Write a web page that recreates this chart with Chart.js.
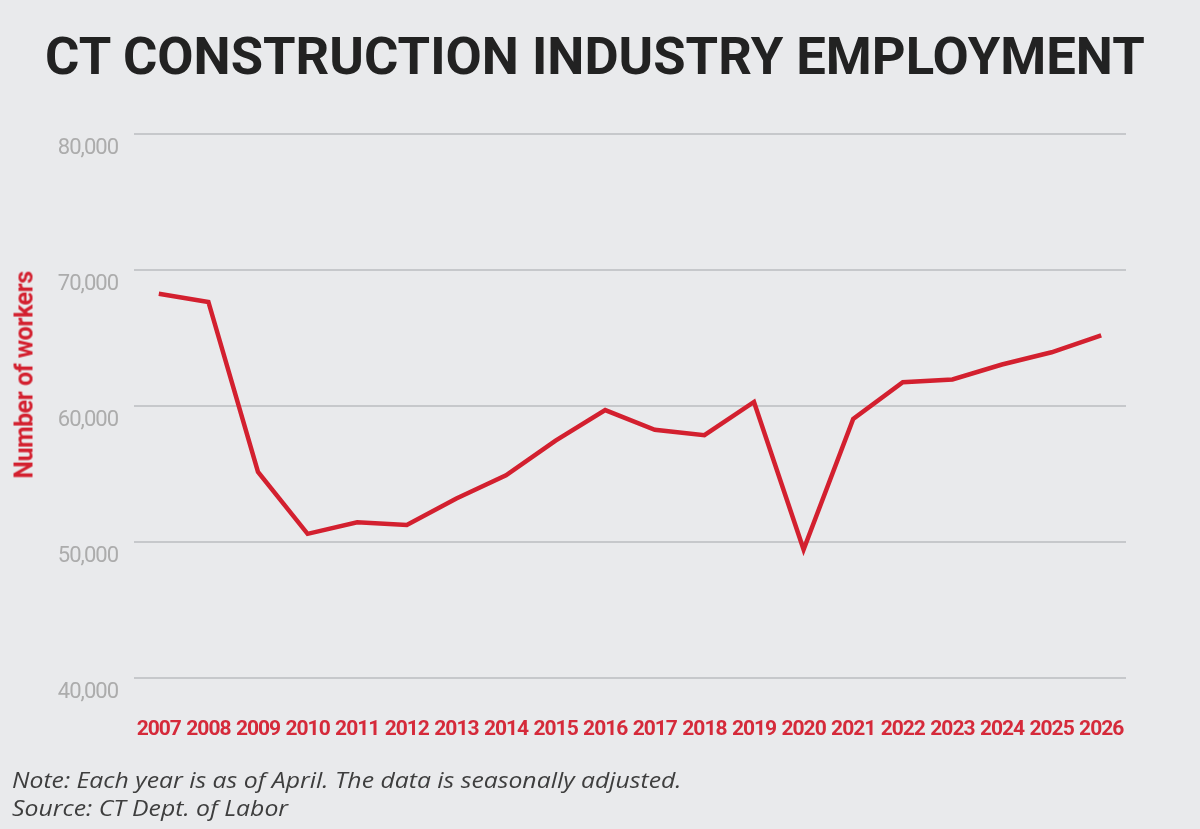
<!DOCTYPE html>
<html>
<head>
<meta charset="utf-8">
<script src="https://cdn.jsdelivr.net/npm/chart.js@4.4.1/dist/chart.umd.min.js"></script>
<style>
  html, body { margin: 0; padding: 0; background: #e9eaec; }
  #wrap { position: relative; width: 1200px; height: 829px; overflow: hidden; background: #e9eaec; }
  #chart { position: absolute; left: 0; top: 0; }
  #title {
    position: absolute; left: 0; top: 31px; width: 1190px; text-align: center;
    font-family: Roboto, sans-serif; font-weight: 700;
    font-size: 52px; line-height: 52px; color: #222222; white-space: nowrap;
  }
  #title span { display: inline-block; transform-origin: center; }
  #ytitle {
    position: absolute; left: 24px; top: 375px; transform: translate(-50%, -50%) rotate(-90deg);
    font-family: Roboto, sans-serif; font-weight: 700; letter-spacing: -0.5px;
    font-size: 25px; color: #d3202f; white-space: nowrap;
  }
  #note {
    position: absolute; left: 12px; top: 765px;
    font-family: "Open Sans", Roboto, sans-serif; font-style: italic; font-size: 22px; line-height: 28px;
    color: #3e3e3e; white-space: nowrap; transform-origin: left top;
  }
</style>
</head>
<body>
<div id="wrap">
  <canvas id="chart" width="1200" height="829"></canvas>
  <div id="title"><span>CT CONSTRUCTION INDUSTRY EMPLOYMENT</span></div>
  <div id="ytitle">Number of workers</div>
  <div id="note">Note: Each year is as of April. The data is seasonally adjusted.<br>Source: CT Dept. of Labor</div>
</div>
<script>
const years = ["2007", "2008", "2009", "2010", "2011", "2012", "2013", "2014", "2015", "2016",
  "2017", "2018", "2019", "2020", "2021", "2022", "2023", "2024", "2025", "2026"];
const workers = [68250, 67650, 55150, 50600, 51450, 51250, 53200, 54900, 57450, 59700,
  58250, 57850, 60300, 49450, 59050, 61750, 61950, 63050, 63950, 65200];
const yMin = 40000;
const yMax = 80000;
const yStep = 10000;

// the original uses a narrow typeface, so tighten the canvas text a little
const tightText = {
  id: "tightText",
  beforeDraw: (chart) => { chart.ctx.letterSpacing = "-1px"; },
  afterDraw: (chart) => { chart.ctx.letterSpacing = "0px"; },
};

const ctx = document.getElementById("chart").getContext("2d");
const chart = new Chart(ctx, {
  type: "line",
  data: {
    labels: years,
    datasets: [
      {
        label: "Number of workers",
        data: workers,
        fill: false,
        borderColor: "#d3202f",
        borderWidth: 4.5,
        pointRadius: 0,
        tension: 0,
      },
    ],
  },
  options: {
    responsive: false,
    animation: false,
    devicePixelRatio: 1,
    layout: { padding: { left: 0, top: 134, right: 74, bottom: 81 } },
    plugins: { legend: { display: false }, tooltip: { enabled: false } },
    scales: {
      x: {
        offset: true,
        grid: { display: false, drawTicks: false },
        border: { display: false },
        ticks: {
          autoSkip: false,
          maxRotation: 0,
          padding: 39,
          color: "#d52a3a",
          font: { family: "Roboto, sans-serif", weight: "bold", size: 21 },
        },
        afterFit: (scale) => { scale.height = 70; },
      },
      y: {
        min: yMin,
        max: yMax,
        grid: { color: "#c6c8cb", lineWidth: 2, drawTicks: false },
        border: { display: false },
        ticks: {
          stepSize: yStep,
          padding: 16,
          labelOffset: 14,
          color: "#acacac",
          font: { family: "Roboto, sans-serif", size: 22 },
          callback: (v) => v.toLocaleString("en-US"),
        },
        afterFit: (scale) => { scale.width = 134; },
      },
    },
  },
  plugins: [tightText],
});

// stretch title and note to the widths used in the original graphic
const t = document.querySelector("#title span");
t.style.transform = "scaleX(" + (1100 / t.offsetWidth) + ")";
const n = document.getElementById("note");
n.style.transform = "scaleX(" + (670 / n.offsetWidth) + ")";
</script>
</body>
</html>
